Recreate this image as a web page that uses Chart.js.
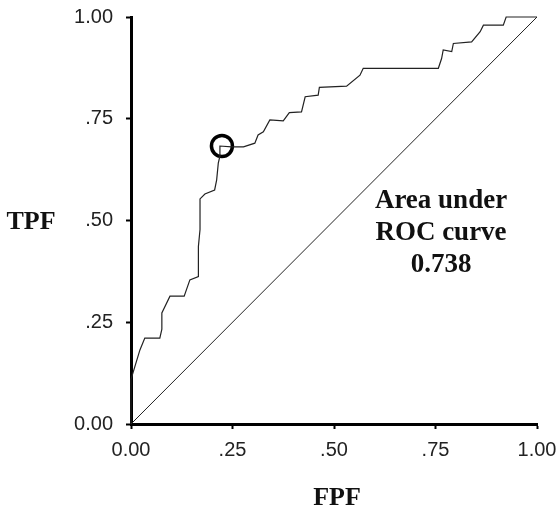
<!DOCTYPE html>
<html>
<head>
<meta charset="utf-8">
<script src="https://cdn.jsdelivr.net/npm/chart.js@4.4.0/dist/chart.umd.min.js"></script>
<style>
  html, body { margin: 0; padding: 0; background: #fff; }
  #wrap { width: 558px; height: 512px; position: relative; }
</style>
</head>
<body>
<div id="wrap"><canvas id="c" width="558" height="512"></canvas></div>
<script>
// ROC curve points (FPF, TPF)
const fpf = [0, 0, 0.022, 0.034, 0.071, 0.076, 0.076, 0.096, 0.131, 0.145, 0.166, 0.166, 0.170, 0.170, 0.182, 0.206, 0.211, 0.215, 0.219, 0.219, 0.248, 0.277, 0.305, 0.313, 0.326, 0.342, 0.375, 0.390, 0.420, 0.429, 0.461, 0.464, 0.531, 0.564, 0.572, 0.757, 0.765, 0.769, 0.790, 0.794, 0.839, 0.860, 0.868, 0.917, 0.924, 1.0];
const tpf = [0, 0.110, 0.182, 0.211, 0.211, 0.233, 0.273, 0.314, 0.314, 0.354, 0.362, 0.436, 0.478, 0.553, 0.565, 0.575, 0.600, 0.641, 0.658, 0.683, 0.681, 0.681, 0.690, 0.710, 0.718, 0.747, 0.745, 0.765, 0.767, 0.804, 0.808, 0.827, 0.830, 0.857, 0.874, 0.874, 0.898, 0.919, 0.915, 0.935, 0.939, 0.964, 0.980, 0.980, 1.0, 1.0];
// Chance diagonal
const diagX = [0, 1];
const diagY = [0, 1];
// Marked cut-off point
const cutFPF = [0.224];
const cutTPF = [0.683];
// Tick labels
const tickValues = [0, 0.25, 0.5, 0.75, 1];
const tickLabels = ['0.00', '.25', '.50', '.75', '1.00'];
// Text
const yTitle = 'TPF';
const xTitle = 'FPF';
const areaText = ['Area under', 'ROC curve', '0.738'];

const toPts = (xs, ys) => xs.map((x, i) => ({ x: x, y: ys[i] }));
const tickCb = (v) => {
  const i = tickValues.findIndex(t => Math.abs(t - v) < 1e-6);
  return i >= 0 ? tickLabels[i] : '';
};

const textPlugin = {
  id: 'texts',
  afterDraw(chart) {
    const ctx = chart.ctx;
    ctx.save();
    ctx.fillStyle = '#111';
    ctx.textAlign = 'center';
    ctx.textBaseline = 'alphabetic';
    ctx.font = 'bold 26px "Liberation Serif", "Times New Roman", serif';
    ctx.fillText(yTitle, 31, 229);
    ctx.fillText(xTitle, 337, 505);
    ctx.font = 'bold 27px "Liberation Serif", "Times New Roman", serif';
    areaText.forEach((t, i) => ctx.fillText(t, 441, 208 + i * 32));
    ctx.restore();
  }
};

new Chart(document.getElementById('c'), {
  type: 'line',
  data: {
    datasets: [
      {
        data: toPts(fpf, tpf),
        borderColor: '#222',
        borderWidth: 1.2,
        pointRadius: 0,
        tension: 0,
        fill: false,
        clip: false
      },
      {
        data: toPts(diagX, diagY),
        borderColor: '#222',
        borderWidth: 1,
        pointRadius: 0,
        tension: 0,
        fill: false,
        clip: false
      },
      {
        data: toPts(cutFPF, cutTPF),
        showLine: false,
        pointRadius: 10.5,
        pointBorderWidth: 3.5,
        pointBorderColor: '#000',
        pointBackgroundColor: 'rgba(0,0,0,0)',
        clip: false
      }
    ]
  },
  options: {
    responsive: false,
    animation: false,
    events: [],
    layout: { padding: { top: 17, right: 21, left: 0, bottom: 0 } },
    plugins: { legend: { display: false }, tooltip: { enabled: false }, title: { display: false } },
    scales: {
      x: {
        type: 'linear',
        min: 0, max: 1,
        afterBuildTicks: (s) => { s.ticks = tickValues.map(v => ({ value: v })); },
        afterFit: (s) => { s.height = 88; s.paddingLeft = 0; s.paddingRight = 0; },
        ticks: {
          callback: tickCb,
          color: '#222',
          font: { family: '"Liberation Sans", Arial, sans-serif', size: 20 },
          padding: 9,
          maxRotation: 0,
          autoSkip: false
        },
        grid: { drawOnChartArea: false, drawTicks: true, tickLength: 5, tickWidth: 2, color: '#000' },
        border: { display: true, color: '#000', width: 3 }
      },
      y: {
        type: 'linear',
        min: 0, max: 1,
        afterBuildTicks: (s) => { s.ticks = tickValues.map(v => ({ value: v })); },
        afterFit: (s) => { s.width = 131; s.paddingTop = 0; s.paddingBottom = 0; },
        ticks: {
          callback: tickCb,
          color: '#222',
          font: { family: '"Liberation Sans", Arial, sans-serif', size: 20 },
          padding: 13,
          autoSkip: false
        },
        grid: { drawOnChartArea: false, drawTicks: true, tickLength: 5, tickWidth: 2, color: '#000' },
        border: { display: true, color: '#000', width: 3 }
      }
    }
  },
  plugins: [textPlugin]
});
</script>
</body>
</html>
